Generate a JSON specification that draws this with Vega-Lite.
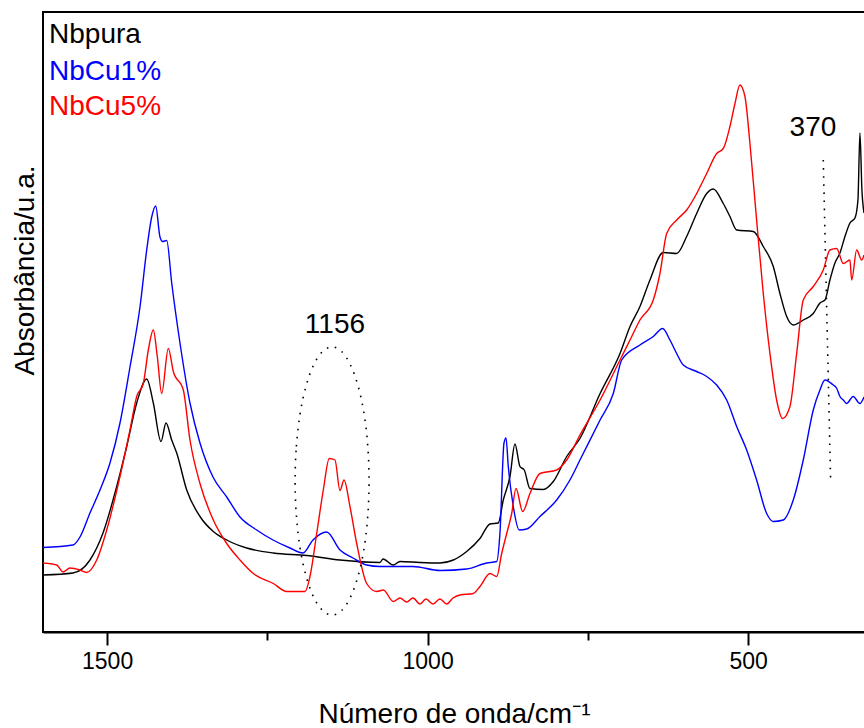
{
  "$schema": "https://vega.github.io/schema/vega-lite/v6.json",
  "autosize": "none",
  "padding": {"left": 43, "top": 12, "right": 0, "bottom": 96},
  "width": 822,
  "height": 620,
  "background": "white",
  "config": {
    "view": {"stroke": "black", "strokeWidth": 2},
    "font": "Liberation Sans"
  },
  "datasets": {
    "spectra": [
      {"s":"Nbpura","wn":1600,"a":0.114},{"s":"Nbpura","wn":1553.2,"a":0.118},{"s":"Nbpura","wn":1526.7,"a":0.144},{"s":"Nbpura","wn":1506.4,"a":0.198},{"s":"Nbpura","wn":1485,"a":0.291},{"s":"Nbpura","wn":1469.4,"a":0.371},{"s":"Nbpura","wn":1453.8,"a":0.458},{"s":"Nbpura","wn":1438.2,"a":0.506},{"s":"Nbpura","wn":1427.9,"a":0.458},{"s":"Nbpura","wn":1415.9,"a":0.381},{"s":"Nbpura","wn":1408.1,"a":0.418},{"s":"Nbpura","wn":1399.2,"a":0.384},{"s":"Nbpura","wn":1391.4,"a":0.358},{"s":"Nbpura","wn":1375.8,"a":0.284},{"s":"Nbpura","wn":1355.1,"a":0.231},{"s":"Nbpura","wn":1334.3,"a":0.201},{"s":"Nbpura","wn":1313.4,"a":0.184},{"s":"Nbpura","wn":1282.2,"a":0.168},{"s":"Nbpura","wn":1240.7,"a":0.158},{"s":"Nbpura","wn":1188.6,"a":0.153},{"s":"Nbpura","wn":1136.7,"a":0.144},{"s":"Nbpura","wn":1074.3,"a":0.139},{"s":"Nbpura","wn":1069.6,"a":0.146},{"s":"Nbpura","wn":1053.5,"a":0.134},{"s":"Nbpura","wn":1043.1,"a":0.141},{"s":"Nbpura","wn":1011.9,"a":0.139},{"s":"Nbpura","wn":980.7,"a":0.138},{"s":"Nbpura","wn":959.9,"a":0.144},{"s":"Nbpura","wn":939,"a":0.161},{"s":"Nbpura","wn":918.3,"a":0.187},{"s":"Nbpura","wn":902.7,"a":0.216},{"s":"Nbpura","wn":889.7,"a":0.218},{"s":"Nbpura","wn":881.9,"a":0.264},{"s":"Nbpura","wn":871.5,"a":0.311},{"s":"Nbpura","wn":863.7,"a":0.376},{"s":"Nbpura","wn":855.9,"a":0.331},{"s":"Nbpura","wn":849.2,"a":0.324},{"s":"Nbpura","wn":840.3,"a":0.287},{"s":"Nbpura","wn":819.5,"a":0.285},{"s":"Nbpura","wn":803.9,"a":0.301},{"s":"Nbpura","wn":783,"a":0.351},{"s":"Nbpura","wn":762.3,"a":0.387},{"s":"Nbpura","wn":730.9,"a":0.477},{"s":"Nbpura","wn":699.8,"a":0.557},{"s":"Nbpura","wn":684.2,"a":0.611},{"s":"Nbpura","wn":668.7,"a":0.651},{"s":"Nbpura","wn":653.1,"a":0.704},{"s":"Nbpura","wn":632.3,"a":0.759},{"s":"Nbpura","wn":611.4,"a":0.757},{"s":"Nbpura","wn":595.8,"a":0.791},{"s":"Nbpura","wn":580.2,"a":0.837},{"s":"Nbpura","wn":564.6,"a":0.877},{"s":"Nbpura","wn":554.3,"a":0.886},{"s":"Nbpura","wn":538.7,"a":0.857},{"s":"Nbpura","wn":528.3,"a":0.831},{"s":"Nbpura","wn":517.8,"a":0.804},{"s":"Nbpura","wn":491.9,"a":0.801},{"s":"Nbpura","wn":476.3,"a":0.771},{"s":"Nbpura","wn":460.7,"a":0.731},{"s":"Nbpura","wn":450.3,"a":0.677},{"s":"Nbpura","wn":439.8,"a":0.631},{"s":"Nbpura","wn":429.5,"a":0.614},{"s":"Nbpura","wn":413.9,"a":0.624},{"s":"Nbpura","wn":398.3,"a":0.637},{"s":"Nbpura","wn":387.9,"a":0.658},{"s":"Nbpura","wn":380.1,"a":0.664},{"s":"Nbpura","wn":372.3,"a":0.704},{"s":"Nbpura","wn":364.5,"a":0.738},{"s":"Nbpura","wn":356.7,"a":0.758},{"s":"Nbpura","wn":348.9,"a":0.791},{"s":"Nbpura","wn":341.1,"a":0.818},{"s":"Nbpura","wn":333.3,"a":0.828},{"s":"Nbpura","wn":328.6,"a":0.864},{"s":"Nbpura","wn":325.5,"a":0.998},{"s":"Nbpura","wn":322.4,"a":0.884},{"s":"Nbpura","wn":319.2,"a":0.838},
      {"s":"NbCu1%","wn":1600,"a":0.169},{"s":"NbCu1%","wn":1553.2,"a":0.174},{"s":"NbCu1%","wn":1542.3,"a":0.19},{"s":"NbCu1%","wn":1526.7,"a":0.238},{"s":"NbCu1%","wn":1511.1,"a":0.284},{"s":"NbCu1%","wn":1495.5,"a":0.338},{"s":"NbCu1%","wn":1479.9,"a":0.418},{"s":"NbCu1%","wn":1464.3,"a":0.53},{"s":"NbCu1%","wn":1448.7,"a":0.65},{"s":"NbCu1%","wn":1438.2,"a":0.764},{"s":"NbCu1%","wn":1430.4,"a":0.83},{"s":"NbCu1%","wn":1424.2,"a":0.852},{"s":"NbCu1%","wn":1417.5,"a":0.79},{"s":"NbCu1%","wn":1413.3,"a":0.781},{"s":"NbCu1%","wn":1407,"a":0.783},{"s":"NbCu1%","wn":1399.2,"a":0.698},{"s":"NbCu1%","wn":1386.3,"a":0.578},{"s":"NbCu1%","wn":1370.7,"a":0.458},{"s":"NbCu1%","wn":1355.1,"a":0.378},{"s":"NbCu1%","wn":1334.8,"a":0.31},{"s":"NbCu1%","wn":1313.4,"a":0.27},{"s":"NbCu1%","wn":1292.7,"a":0.23},{"s":"NbCu1%","wn":1266.6,"a":0.204},{"s":"NbCu1%","wn":1241.2,"a":0.184},{"s":"NbCu1%","wn":1214.7,"a":0.168},{"s":"NbCu1%","wn":1194.4,"a":0.158},{"s":"NbCu1%","wn":1178.8,"a":0.184},{"s":"NbCu1%","wn":1157.4,"a":0.2},{"s":"NbCu1%","wn":1136.7,"a":0.164},{"s":"NbCu1%","wn":1116.4,"a":0.148},{"s":"NbCu1%","wn":1095,"a":0.134},{"s":"NbCu1%","wn":1074.3,"a":0.131},{"s":"NbCu1%","wn":1022.8,"a":0.131},{"s":"NbCu1%","wn":980.7,"a":0.123},{"s":"NbCu1%","wn":939,"a":0.126},{"s":"NbCu1%","wn":907.8,"a":0.138},{"s":"NbCu1%","wn":892.2,"a":0.141},{"s":"NbCu1%","wn":887.1,"a":0.198},{"s":"NbCu1%","wn":880.8,"a":0.378},{"s":"NbCu1%","wn":877.7,"a":0.388},{"s":"NbCu1%","wn":874.1,"a":0.331},{"s":"NbCu1%","wn":866.3,"a":0.251},{"s":"NbCu1%","wn":856.9,"a":0.204},{"s":"NbCu1%","wn":845.4,"a":0.206},{"s":"NbCu1%","wn":824.7,"a":0.231},{"s":"NbCu1%","wn":798.6,"a":0.264},{"s":"NbCu1%","wn":777.9,"a":0.304},{"s":"NbCu1%","wn":762.3,"a":0.344},{"s":"NbCu1%","wn":730.9,"a":0.424},{"s":"NbCu1%","wn":710.3,"a":0.477},{"s":"NbCu1%","wn":697.2,"a":0.544},{"s":"NbCu1%","wn":668.7,"a":0.574},{"s":"NbCu1%","wn":647.9,"a":0.591},{"s":"NbCu1%","wn":633.3,"a":0.607},{"s":"NbCu1%","wn":621.9,"a":0.584},{"s":"NbCu1%","wn":611.4,"a":0.557},{"s":"NbCu1%","wn":601.1,"a":0.534},{"s":"NbCu1%","wn":580.2,"a":0.521},{"s":"NbCu1%","wn":564.6,"a":0.511},{"s":"NbCu1%","wn":549,"a":0.494},{"s":"NbCu1%","wn":533.4,"a":0.464},{"s":"NbCu1%","wn":517.8,"a":0.411},{"s":"NbCu1%","wn":502.2,"a":0.364},{"s":"NbCu1%","wn":486.7,"a":0.304},{"s":"NbCu1%","wn":471,"a":0.237},{"s":"NbCu1%","wn":460.7,"a":0.221},{"s":"NbCu1%","wn":445.1,"a":0.224},{"s":"NbCu1%","wn":429.5,"a":0.264},{"s":"NbCu1%","wn":413.9,"a":0.344},{"s":"NbCu1%","wn":398.3,"a":0.444},{"s":"NbCu1%","wn":387.9,"a":0.484},{"s":"NbCu1%","wn":380.1,"a":0.504},{"s":"NbCu1%","wn":367.1,"a":0.494},{"s":"NbCu1%","wn":362,"a":0.488},{"s":"NbCu1%","wn":356.7,"a":0.471},{"s":"NbCu1%","wn":351.5,"a":0.464},{"s":"NbCu1%","wn":346.4,"a":0.457},{"s":"NbCu1%","wn":336,"a":0.471},{"s":"NbCu1%","wn":325.5,"a":0.457},{"s":"NbCu1%","wn":319.2,"a":0.47},
      {"s":"NbCu5%","wn":1600,"a":0.138},{"s":"NbCu5%","wn":1578.6,"a":0.134},{"s":"NbCu5%","wn":1568.8,"a":0.12},{"s":"NbCu5%","wn":1557.9,"a":0.128},{"s":"NbCu5%","wn":1542.3,"a":0.124},{"s":"NbCu5%","wn":1531.8,"a":0.119},{"s":"NbCu5%","wn":1516.2,"a":0.144},{"s":"NbCu5%","wn":1500.6,"a":0.204},{"s":"NbCu5%","wn":1479.9,"a":0.311},{"s":"NbCu5%","wn":1464.3,"a":0.404},{"s":"NbCu5%","wn":1453.8,"a":0.471},{"s":"NbCu5%","wn":1443.5,"a":0.497},{"s":"NbCu5%","wn":1435.7,"a":0.564},{"s":"NbCu5%","wn":1427.9,"a":0.604},{"s":"NbCu5%","wn":1421.7,"a":0.551},{"s":"NbCu5%","wn":1414.8,"a":0.477},{"s":"NbCu5%","wn":1404.5,"a":0.567},{"s":"NbCu5%","wn":1396.7,"a":0.521},{"s":"NbCu5%","wn":1381.1,"a":0.484},{"s":"NbCu5%","wn":1370.7,"a":0.384},{"s":"NbCu5%","wn":1355.1,"a":0.297},{"s":"NbCu5%","wn":1334.3,"a":0.224},{"s":"NbCu5%","wn":1313.4,"a":0.177},{"s":"NbCu5%","wn":1292.7,"a":0.144},{"s":"NbCu5%","wn":1271.9,"a":0.117},{"s":"NbCu5%","wn":1240.7,"a":0.097},{"s":"NbCu5%","wn":1219.8,"a":0.081},{"s":"NbCu5%","wn":1191.3,"a":0.081},{"s":"NbCu5%","wn":1183.5,"a":0.111},{"s":"NbCu5%","wn":1173,"a":0.197},{"s":"NbCu5%","wn":1162.7,"a":0.284},{"s":"NbCu5%","wn":1153.4,"a":0.347},{"s":"NbCu5%","wn":1144.5,"a":0.344},{"s":"NbCu5%","wn":1136.7,"a":0.283},{"s":"NbCu5%","wn":1130.4,"a":0.304},{"s":"NbCu5%","wn":1121.1,"a":0.251},{"s":"NbCu5%","wn":1110.6,"a":0.177},{"s":"NbCu5%","wn":1095,"a":0.097},{"s":"NbCu5%","wn":1079.4,"a":0.081},{"s":"NbCu5%","wn":1069.1,"a":0.084},{"s":"NbCu5%","wn":1053.5,"a":0.061},{"s":"NbCu5%","wn":1043.1,"a":0.068},{"s":"NbCu5%","wn":1032.6,"a":0.06},{"s":"NbCu5%","wn":1022.8,"a":0.068},{"s":"NbCu5%","wn":1011.9,"a":0.056},{"s":"NbCu5%","wn":1002.5,"a":0.066},{"s":"NbCu5%","wn":991.6,"a":0.056},{"s":"NbCu5%","wn":980.7,"a":0.066},{"s":"NbCu5%","wn":970.2,"a":0.056},{"s":"NbCu5%","wn":960.4,"a":0.068},{"s":"NbCu5%","wn":949.5,"a":0.074},{"s":"NbCu5%","wn":928.7,"a":0.077},{"s":"NbCu5%","wn":918.3,"a":0.091},{"s":"NbCu5%","wn":902.7,"a":0.117},{"s":"NbCu5%","wn":892.2,"a":0.111},{"s":"NbCu5%","wn":884.4,"a":0.157},{"s":"NbCu5%","wn":876.6,"a":0.197},{"s":"NbCu5%","wn":868.8,"a":0.237},{"s":"NbCu5%","wn":862.1,"a":0.287},{"s":"NbCu5%","wn":851.7,"a":0.241},{"s":"NbCu5%","wn":840.3,"a":0.277},{"s":"NbCu5%","wn":824.7,"a":0.317},{"s":"NbCu5%","wn":798.6,"a":0.324},{"s":"NbCu5%","wn":783,"a":0.344},{"s":"NbCu5%","wn":762.3,"a":0.394},{"s":"NbCu5%","wn":730.9,"a":0.464},{"s":"NbCu5%","wn":699.8,"a":0.544},{"s":"NbCu5%","wn":684.2,"a":0.584},{"s":"NbCu5%","wn":668.7,"a":0.624},{"s":"NbCu5%","wn":647.9,"a":0.664},{"s":"NbCu5%","wn":637.5,"a":0.717},{"s":"NbCu5%","wn":627,"a":0.797},{"s":"NbCu5%","wn":611.4,"a":0.824},{"s":"NbCu5%","wn":595.8,"a":0.844},{"s":"NbCu5%","wn":580.2,"a":0.877},{"s":"NbCu5%","wn":564.6,"a":0.917},{"s":"NbCu5%","wn":549,"a":0.957},{"s":"NbCu5%","wn":538.7,"a":0.967},{"s":"NbCu5%","wn":528.3,"a":1.011},{"s":"NbCu5%","wn":520.5,"a":1.057},{"s":"NbCu5%","wn":512.7,"a":1.094},{"s":"NbCu5%","wn":504.9,"a":1.071},{"s":"NbCu5%","wn":497.1,"a":0.977},{"s":"NbCu5%","wn":486.7,"a":0.824},{"s":"NbCu5%","wn":476.3,"a":0.677},{"s":"NbCu5%","wn":465.9,"a":0.557},{"s":"NbCu5%","wn":455.5,"a":0.464},{"s":"NbCu5%","wn":446.1,"a":0.427},{"s":"NbCu5%","wn":434.7,"a":0.451},{"s":"NbCu5%","wn":424.2,"a":0.557},{"s":"NbCu5%","wn":413.9,"a":0.664},{"s":"NbCu5%","wn":398.3,"a":0.691},{"s":"NbCu5%","wn":382.7,"a":0.724},{"s":"NbCu5%","wn":372.3,"a":0.764},{"s":"NbCu5%","wn":361.8,"a":0.767},{"s":"NbCu5%","wn":351.5,"a":0.737},{"s":"NbCu5%","wn":341.1,"a":0.744},{"s":"NbCu5%","wn":338.4,"a":0.704},{"s":"NbCu5%","wn":330.6,"a":0.764},{"s":"NbCu5%","wn":322.8,"a":0.744},{"s":"NbCu5%","wn":319.2,"a":0.754}
    ],
    "names": [
      {"s":"Nbpura","wn":1590.6,"a":1.178},
      {"s":"NbCu1%","wn":1590.6,"a":1.104},
      {"s":"NbCu5%","wn":1590.6,"a":1.034}
    ],
    "ring": [
      {"i":0,"wn":1206.7,"a":0.302},{"i":1,"wn":1204.7,"a":0.371},{"i":2,"wn":1199,"a":0.436},{"i":3,"wn":1189.8,"a":0.491},{"i":4,"wn":1177.9,"a":0.534},{"i":5,"wn":1163.9,"a":0.561},{"i":6,"wn":1149,"a":0.57},{"i":7,"wn":1134.1,"a":0.561},{"i":8,"wn":1120.2,"a":0.534},{"i":9,"wn":1108.2,"a":0.491},{"i":10,"wn":1099,"a":0.436},{"i":11,"wn":1093.3,"a":0.371},{"i":12,"wn":1091.3,"a":0.302},{"i":13,"wn":1093.3,"a":0.233},{"i":14,"wn":1099,"a":0.168},{"i":15,"wn":1108.2,"a":0.113},{"i":16,"wn":1120.2,"a":0.07},{"i":17,"wn":1134.1,"a":0.043},{"i":18,"wn":1149,"a":0.034},{"i":19,"wn":1163.9,"a":0.043},{"i":20,"wn":1177.9,"a":0.07},{"i":21,"wn":1189.8,"a":0.113},{"i":22,"wn":1199,"a":0.168},{"i":23,"wn":1204.7,"a":0.233}
    ],
    "marker": [
      {"i":0,"wn":382.7,"a":0.944},
      {"i":1,"wn":371.2,"a":0.301}
    ],
    "labels": [
      {"t":"1156","wn":1144.5,"a":0.598},
      {"t":"370","wn":398.8,"a":0.992}
    ]
  },
  "encoding": {
    "x": {
      "field": "wn",
      "type": "quantitative",
      "scale": {"domain": [1600, 317.6], "nice": false, "zero": false},
      "axis": {
        "title": "Número de onda/cm⁻¹",
        "titleFont": "Liberation Sans",
        "titleFontSize": 28,
        "titleFontWeight": "normal",
        "titleColor": "black",
        "titlePadding": 27,
        "values": [1500, 1250, 1000, 750, 500],
        "format": "d",
        "labelExpr": "datum.value % 500 === 0 ? datum.label : ''",
        "labelFont": "Liberation Sans",
        "labelFontSize": 23,
        "labelColor": "black",
        "labelPadding": 5,
        "domainColor": "black",
        "domainWidth": 2,
        "tickColor": "black",
        "tickWidth": 2,
        "tickSize": {"condition": {"test": "datum.value % 500 === 0", "value": 13}, "value": 8},
        "grid": false
      }
    },
    "y": {
      "field": "a",
      "type": "quantitative",
      "scale": {"domain": [0, 1.24], "nice": false, "zero": false},
      "axis": {
        "title": "Absorbância/u.a.",
        "titleFont": "Liberation Sans",
        "titleFontSize": 28,
        "titleFontWeight": "normal",
        "titleColor": "black",
        "titleAngle": -90,
        "titleBaseline": "middle",
        "titleAnchor": null,
        "titleX": -18,
        "titleY": 258,
        "labels": false,
        "ticks": false,
        "domain": false,
        "grid": false
      }
    }
  },
  "layer": [
    {
      "data": {"name": "spectra"},
      "mark": {"type": "line", "interpolate": "monotone", "strokeWidth": 1.4, "clip": true},
      "encoding": {
        "color": {
          "field": "s",
          "type": "nominal",
          "scale": {"domain": ["Nbpura", "NbCu1%", "NbCu5%"], "range": ["#000000", "#0000ff", "#ff0000"]},
          "legend": null
        },
        "detail": {"field": "s"}
      }
    },
    {
      "data": {"name": "ring"},
      "mark": {"type": "line", "interpolate": "cardinal-closed", "color": "black", "strokeWidth": 1.6, "strokeDash": [1.6, 6.5]},
      "encoding": {"order": {"field": "i", "type": "quantitative"}}
    },
    {
      "data": {"name": "marker"},
      "mark": {"type": "line", "color": "black", "strokeWidth": 1.6, "strokeDash": [1.6, 6.5]},
      "encoding": {"order": {"field": "i", "type": "quantitative"}}
    },
    {
      "data": {"name": "labels"},
      "mark": {"type": "text", "font": "Liberation Sans", "fontSize": 28, "align": "center", "baseline": "alphabetic", "color": "black"},
      "encoding": {"text": {"field": "t"}}
    },
    {
      "data": {"name": "names"},
      "mark": {"type": "text", "font": "Liberation Sans", "fontSize": 28, "align": "left", "baseline": "alphabetic"},
      "encoding": {
        "text": {"field": "s"},
        "color": {"field": "s", "type": "nominal", "legend": null}
      }
    }
  ]
}
